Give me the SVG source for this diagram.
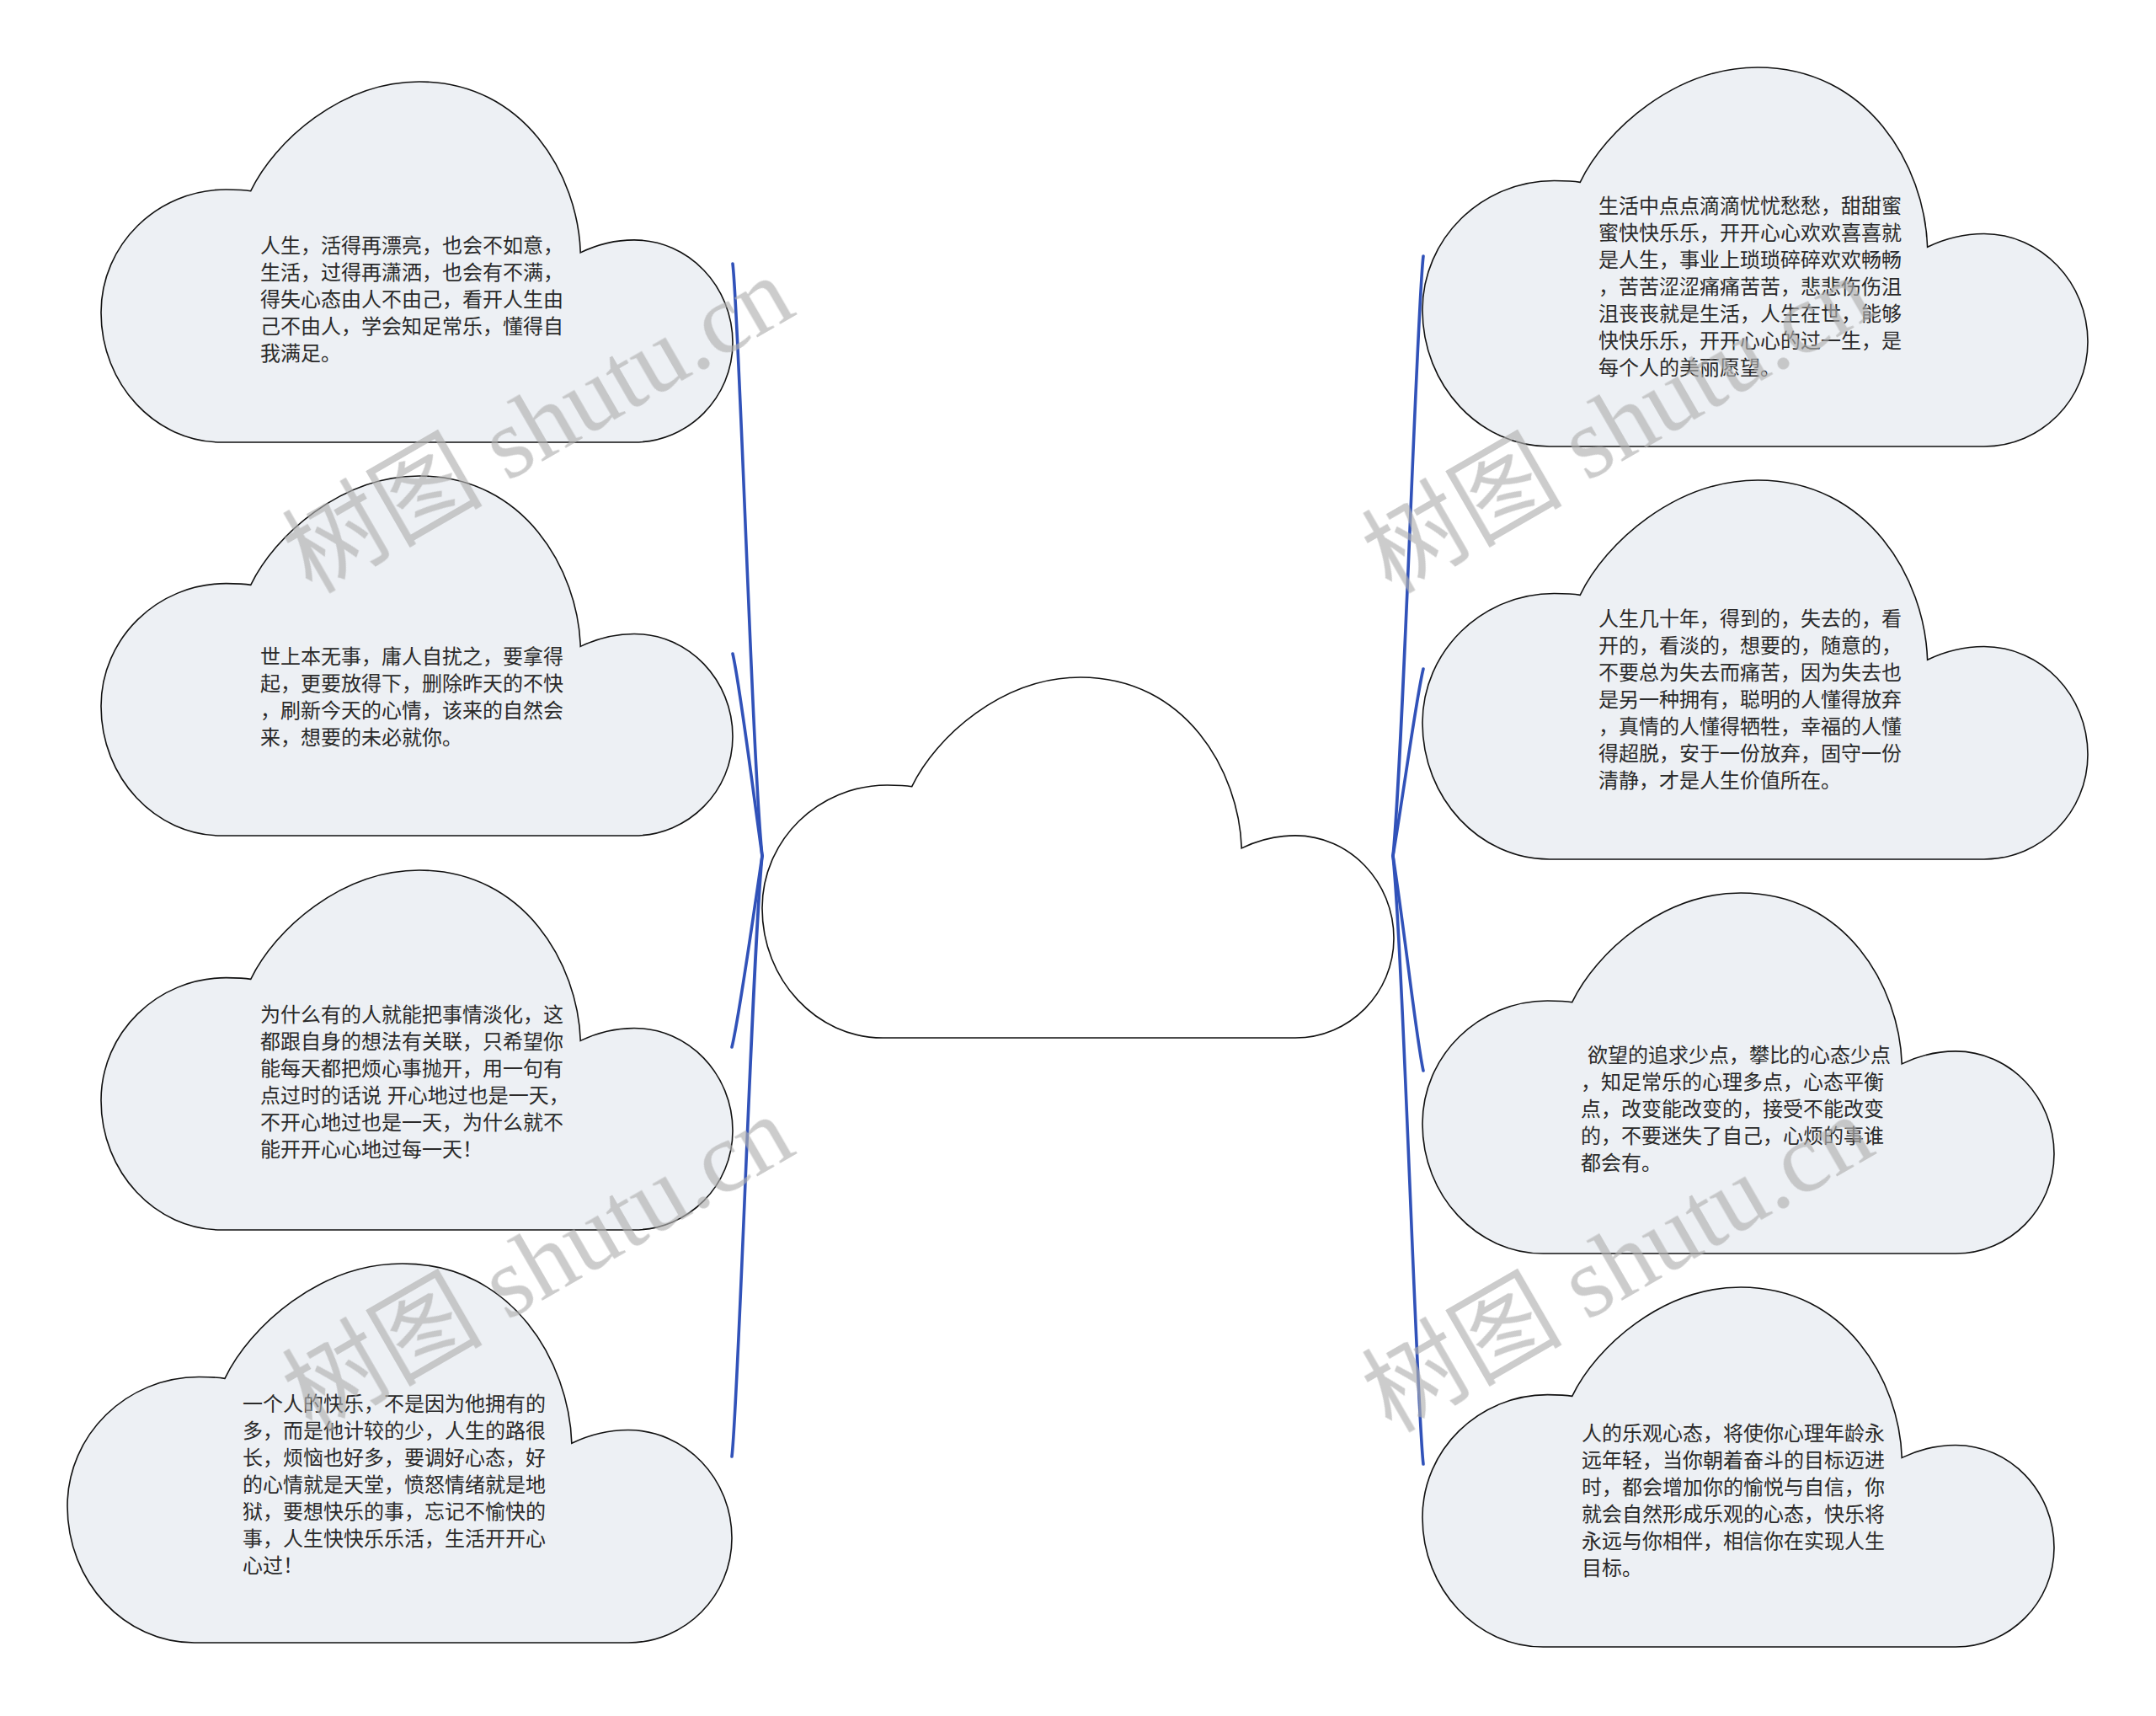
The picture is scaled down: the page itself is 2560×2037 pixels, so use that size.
<svg xmlns="http://www.w3.org/2000/svg" xmlns:xlink="http://www.w3.org/1999/xlink" width="2560" height="2037" viewBox="0 0 2560 2037">
<style>
.side{fill:#edf0f4;stroke:#111;stroke-width:1.6}
.center{fill:#ffffff;stroke:#111;stroke-width:1.6}
.txt{font-family:"Liberation Sans","Noto Sans CJK SC",sans-serif;font-size:24px;fill:#2a2a2a}
.conn{fill:none;stroke:#3152b9;stroke-width:3.6;stroke-linecap:round}
.wm{font-family:"Liberation Serif","Noto Sans CJK SC",serif;font-size:119px;fill:#b0b0b0;opacity:0.65}
</style>
<defs>
<path id="cloud" vector-effect="non-scaling-stroke" d="M 237 303 C 275 165 380 0 504 0 C 670 0 755 260 759 474 C 785 452 815 439 844 439 C 930 439 1000 567 1000 724 C 1000 876 930 1000 844 1000 L 191 1000 C 86 1000 0 839 0 640 C 0 452 89 299 198 299 C 215 299 228 300 237 303 Z"/>
</defs>
<rect width="2560" height="2037" fill="#ffffff"/>
<g id="connectors">
<path class="conn" d="M 870 313 C 878 380 893 900 905 1016"/>
<path class="conn" d="M 870 776 C 878 810 893 930 905 1016"/>
<path class="conn" d="M 869 1243 C 877 1211 893 1098 905 1016"/>
<path class="conn" d="M 869 1729 C 877 1662 893 1132 905 1016"/>
<path class="conn" d="M 1690 304 C 1682 372 1666 900 1654 1016"/>
<path class="conn" d="M 1690 794 C 1682 826 1668 932 1654 1016"/>
<path class="conn" d="M 1690 1271 C 1682 1236 1668 1106 1654 1016"/>
<path class="conn" d="M 1690 1738 C 1682 1670 1666 1132 1654 1016"/>
</g>
<g id="center">
<use xlink:href="#cloud" href="#cloud" class="center" transform="translate(905,804) scale(0.75,0.428)"/>
</g>
<g id="node-l1">
<use xlink:href="#cloud" href="#cloud" class="side" transform="translate(120,97) scale(0.75,0.428)"/>
<text class="txt"><tspan x="309" y="300">人生，活得再漂亮，也会不如意，</tspan><tspan x="309" y="332">生活，过得再潇洒，也会有不满，</tspan><tspan x="309" y="364">得失心态由人不由己，看开人生由</tspan><tspan x="309" y="396">己不由人，学会知足常乐，懂得自</tspan><tspan x="309" y="428">我满足。</tspan></text>
</g>
<g id="node-l2">
<use xlink:href="#cloud" href="#cloud" class="side" transform="translate(120,565) scale(0.75,0.427)"/>
<text class="txt"><tspan x="309" y="788">世上本无事，庸人自扰之，要拿得</tspan><tspan x="309" y="820">起，更要放得下，删除昨天的不快</tspan><tspan x="309" y="852">，刷新今天的心情，该来的自然会</tspan><tspan x="309" y="884">来，想要的未必就你。</tspan></text>
</g>
<g id="node-l3">
<use xlink:href="#cloud" href="#cloud" class="side" transform="translate(120,1033) scale(0.75,0.427)"/>
<text class="txt"><tspan x="309" y="1213">为什么有的人就能把事情淡化，这</tspan><tspan x="309" y="1245">都跟自身的想法有关联，只希望你</tspan><tspan x="309" y="1277">能每天都把烦心事抛开，用一句有</tspan><tspan x="309" y="1309">点过时的话说 开心地过也是一天，</tspan><tspan x="309" y="1341">不开心地过也是一天，为什么就不</tspan><tspan x="309" y="1373">能开开心心地过每一天！</tspan></text>
</g>
<g id="node-l4">
<use xlink:href="#cloud" href="#cloud" class="side" transform="translate(80,1500) scale(0.789,0.45)"/>
<text class="txt"><tspan x="288" y="1675">一个人的快乐，不是因为他拥有的</tspan><tspan x="288" y="1707">多，而是他计较的少，人生的路很</tspan><tspan x="288" y="1739">长，烦恼也好多，要调好心态，好</tspan><tspan x="288" y="1771">的心情就是天堂，愤怒情绪就是地</tspan><tspan x="288" y="1803">狱，要想快乐的事，忘记不愉快的</tspan><tspan x="288" y="1835">事，人生快快乐乐活，生活开开心</tspan><tspan x="288" y="1867">心过！</tspan></text>
</g>
<g id="node-r1">
<use xlink:href="#cloud" href="#cloud" class="side" transform="translate(1689,80) scale(0.79,0.45)"/>
<text class="txt"><tspan x="1898" y="253">生活中点点滴滴忧忧愁愁，甜甜蜜</tspan><tspan x="1898" y="285">蜜快快乐乐，开开心心欢欢喜喜就</tspan><tspan x="1898" y="317">是人生，事业上琐琐碎碎欢欢畅畅</tspan><tspan x="1898" y="349">，苦苦涩涩痛痛苦苦，悲悲伤伤沮</tspan><tspan x="1898" y="381">沮丧丧就是生活，人生在世，能够</tspan><tspan x="1898" y="413">快快乐乐，开开心心的过一生，是</tspan><tspan x="1898" y="445">每个人的美丽愿望。</tspan></text>
</g>
<g id="node-r2">
<use xlink:href="#cloud" href="#cloud" class="side" transform="translate(1689,570) scale(0.79,0.45)"/>
<text class="txt"><tspan x="1898" y="743">人生几十年，得到的，失去的，看</tspan><tspan x="1898" y="775">开的，看淡的，想要的，随意的，</tspan><tspan x="1898" y="807">不要总为失去而痛苦，因为失去也</tspan><tspan x="1898" y="839">是另一种拥有，聪明的人懂得放弃</tspan><tspan x="1898" y="871">，真情的人懂得牺牲，幸福的人懂</tspan><tspan x="1898" y="903">得超脱，安于一份放弃，固守一份</tspan><tspan x="1898" y="935">清静，才是人生价值所在。</tspan></text>
</g>
<g id="node-r3">
<use xlink:href="#cloud" href="#cloud" class="side" transform="translate(1689,1060) scale(0.75,0.428)"/>
<text class="txt"><tspan x="1885" y="1261">欲望的追求少点，攀比的心态少点</tspan><tspan x="1877" y="1293">，知足常乐的心理多点，心态平衡</tspan><tspan x="1877" y="1325">点，改变能改变的，接受不能改变</tspan><tspan x="1877" y="1357">的，不要迷失了自己，心烦的事谁</tspan><tspan x="1877" y="1389">都会有。</tspan></text>
</g>
<g id="node-r4">
<use xlink:href="#cloud" href="#cloud" class="side" transform="translate(1689,1528) scale(0.75,0.427)"/>
<text class="txt"><tspan x="1878" y="1710">人的乐观心态，将使你心理年龄永</tspan><tspan x="1878" y="1742">远年轻，当你朝着奋斗的目标迈进</tspan><tspan x="1878" y="1774">时，都会增加你的愉悦与自信，你</tspan><tspan x="1878" y="1806">就会自然形成乐观的心态，快乐将</tspan><tspan x="1878" y="1838">永远与你相伴，相信你在实现人生</tspan><tspan x="1878" y="1870">目标。</tspan></text>
</g>
<g id="watermark" class="wm">
<text transform="translate(370,706) rotate(-30)">树图 shutu.cn</text>
<text transform="translate(370,1702) rotate(-30)">树图 shutu.cn</text>
<text transform="translate(1652,706) rotate(-30)">树图 shutu.cn</text>
<text transform="translate(1652,1702) rotate(-30)">树图 shutu.cn</text>
</g>
</svg>
